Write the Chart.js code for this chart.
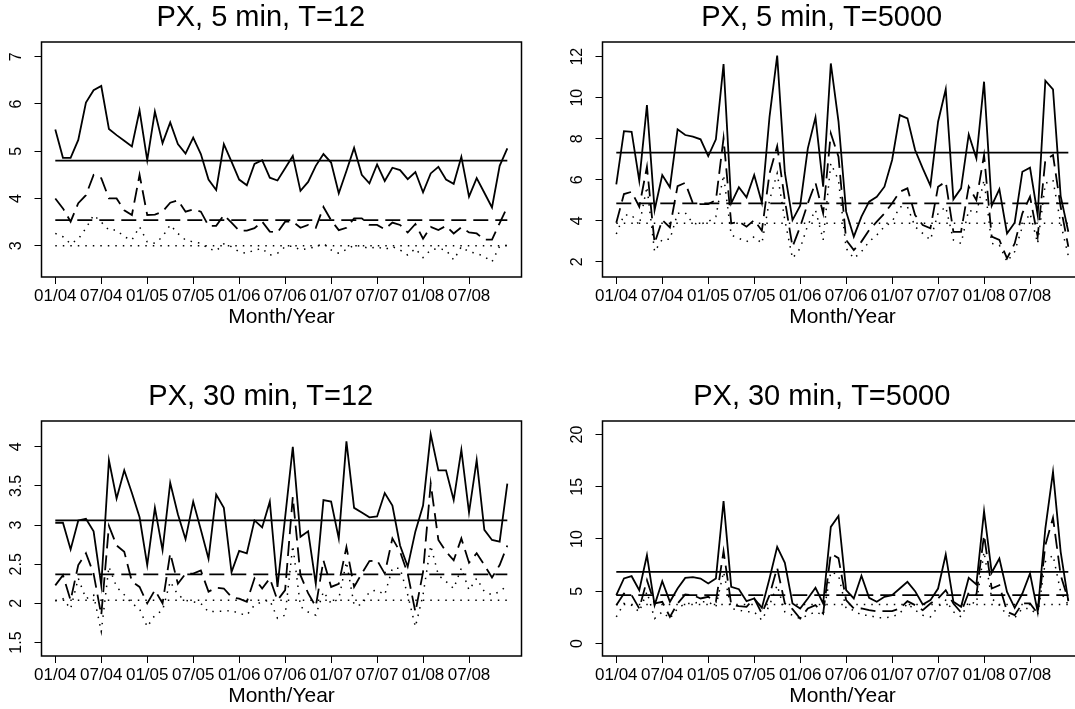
<!DOCTYPE html>
<html>
<head>
<meta charset="utf-8">
<script src="https://cdn.jsdelivr.net/npm/chart.js@4.4.1/dist/chart.umd.min.js"></script>
<style>
  html, body { margin: 0; padding: 0; background: #fff; }
  body { position: relative; width: 1075px; height: 709px; overflow: hidden; }
  canvas { position: absolute; }
</style>
</head>
<body>
<canvas id="c1" width="563" height="354" style="left:0px;top:0px"></canvas>
<canvas id="c2" width="563" height="354" style="left:561px;top:0px"></canvas>
<canvas id="c3" width="563" height="354" style="left:0px;top:378.5px"></canvas>
<canvas id="c4" width="563" height="354" style="left:561px;top:378.5px"></canvas>
<script>
// x axis: months 01/2004 .. 12/2008 (index 0..59)
const tickPos = [0, 6, 12, 18, 24, 30, 36, 42, 48, 54];
const tickLabels = ['01/04', '07/04', '01/05', '07/05', '01/06', '07/06', '01/07', '07/07', '01/08', '07/08'];

// PX, 5 min, T=12
const p1Solid = [5.46,4.86,4.86,5.24,6.03,6.29,6.38,5.47,5.34,5.22, 5.10,5.86,4.81,5.84,5.17,5.61,5.15,4.95,5.29,4.94,
  4.40,4.18,5.15,4.78,4.40,4.28,4.73,4.81,4.44,4.38, 4.64,4.90,4.16,4.35,4.69,4.94,4.76,4.11,4.58,5.07,
  4.50,4.32,4.72,4.37,4.65,4.60,4.41,4.56,4.13,4.53, 4.67,4.40,4.31,4.88,4.04,4.43,4.12,3.81,4.69,5.06];
const p1Dashed = [4.00,3.79,3.51,3.90,4.07,4.50,4.43,4.00,4.00,3.75, 3.65,4.50,3.65,3.66,3.72,3.91,3.96,3.72,3.77,3.72,
  3.42,3.42,3.65,3.49,3.32,3.32,3.37,3.51,3.30,3.28, 3.51,3.51,3.38,3.44,3.38,3.82,3.54,3.33,3.38,3.58,
  3.58,3.44,3.44,3.35,3.49,3.44,3.28,3.46,3.15,3.40, 3.33,3.42,3.26,3.39,3.28,3.26,3.13,3.13,3.48,3.82];
const p1Dotted = [3.26,3.19,3.04,3.14,3.37,3.65,3.50,3.33,3.33,3.19, 3.12,3.40,3.08,3.05,3.19,3.44,3.26,3.12,3.08,3.05,
  2.94,2.89,3.04,2.98,2.87,2.84,2.91,2.94,2.80,2.84, 2.98,2.99,2.91,2.94,2.98,3.05,2.91,2.84,2.92,3.01,
  2.99,2.94,2.98,2.92,2.98,2.91,2.80,2.94,2.75,2.91, 2.94,2.91,2.70,2.98,2.87,2.84,2.77,2.66,2.99,3.01];
const p1Means = [4.80, 3.54, 3.00];
const p1Ticks = [3, 4, 5, 6, 7];

// PX, 5 min, T=5000
const p2Solid = [5.77,8.37,8.34,5.95,9.64,4.52,6.23,5.63,8.46,8.18, 8.10,7.97,7.15,7.97,11.64,4.85,5.63,5.14,6.23,4.88,
  9.07,12.05,6.34,4.03,4.73,7.53,9.04,5.66,11.67,8.85, 4.44,3.22,4.20,4.93,5.17,5.66,6.96,9.15,8.99,7.45,
  6.55,5.71,8.83,10.41,5.04,5.58,8.21,7.04,10.78,4.73, 5.54,3.38,3.90,6.39,6.59,4.28,10.83,10.41,5.20,3.46];
const p2Dashed = [3.90,5.30,5.41,4.68,6.63,2.90,4.03,3.67,5.69,5.85, 4.85,4.81,4.81,5.00,8.02,3.87,3.95,3.71,4.03,3.51,
  6.31,7.64,5.00,2.73,3.71,4.85,5.85,4.36,8.26,7.12, 3.06,2.57,2.98,3.54,3.95,4.36,4.85,5.41,5.58,4.28,
  3.79,3.63,5.66,5.90,3.46,3.46,5.66,5.00,7.20,3.22, 3.06,2.16,2.89,4.36,5.17,3.22,6.96,7.20,4.68,2.73];
const p2Dotted = [3.35,4.28,4.28,3.79,5.66,2.49,3.09,3.09,4.36,4.39, 3.87,3.84,3.95,4.20,6.23,3.30,3.14,2.98,3.22,2.89,
  5.00,6.31,4.03,2.16,2.65,3.79,4.52,3.06,6.80,5.98, 2.65,2.16,2.49,2.98,3.30,3.71,3.95,4.68,4.68,3.71,
  3.38,3.06,4.36,4.68,3.06,2.89,4.52,4.36,5.98,2.89, 2.81,2.00,2.49,3.71,4.36,2.89,5.82,5.98,3.87,2.28];
const p2Means = [7.32, 4.85, 3.87];
const p2Ticks = [2, 4, 6, 8, 10, 12];

// PX, 30 min, T=12
const p3Solid = [3.03,3.03,2.69,3.06,3.08,2.92,2.23,3.83,3.34,3.70, 3.41,3.10,2.49,3.22,2.68,3.54,3.14,2.82,3.30,2.94,
  2.57,3.39,3.22,2.40,2.67,2.64,3.06,2.97,3.30,2.21, 3.10,4.00,2.85,2.92,2.25,3.32,3.30,2.83,4.07,3.22,
  3.16,3.10,3.11,3.41,3.25,2.74,2.47,2.92,3.25,4.16, 3.70,3.70,3.32,3.96,3.16,3.83,2.94,2.81,2.79,3.53];
const p3Dashed = [2.23,2.36,2.04,2.49,2.64,2.38,1.85,2.99,2.74,2.66, 2.28,2.21,2.00,2.17,2.00,2.64,2.25,2.38,2.38,2.42,
  2.15,2.20,2.19,2.08,2.06,2.02,2.32,2.19,2.32,2.04, 2.17,3.36,2.36,2.13,1.96,2.55,2.21,2.25,2.72,2.21,
  2.38,2.54,2.55,2.38,2.83,2.66,2.38,1.89,2.40,3.53, 2.81,2.66,2.55,2.83,2.52,2.64,2.49,2.33,2.49,2.74];
const p3Dotted = [2.03,2.06,1.93,2.32,2.06,2.11,1.64,2.47,2.21,2.11, 2.00,1.93,1.70,1.85,1.91,2.28,2.11,2.04,2.02,2.00,
  1.89,1.90,1.90,1.91,1.87,1.85,1.98,2.02,2.04,1.81, 1.85,2.74,1.96,1.89,1.85,2.15,2.00,2.06,2.53,1.98,
  1.98,2.15,2.17,2.11,2.45,2.45,2.11,1.70,2.11,2.74, 2.36,2.28,2.19,2.45,2.17,2.32,2.15,2.11,2.15,2.23];
const p3Means = [3.06, 2.37, 2.04];
const p3Ticks = [1.5, 2, 2.5, 3, 3.5, 4];

// PX, 30 min, T=5000
const p4Solid = [4.63,6.22,6.44,5.10,8.45,3.67,5.96,3.99,5.26,6.28, 6.35,6.22,5.74,6.22,13.62,5.42,5.20,4.05,4.31,3.41,
  6.22,9.25,7.72,3.83,3.35,4.31,5.33,3.83,11.16,12.20, 5.10,4.31,6.48,4.37,3.99,4.47,4.63,5.26,5.90,5.01,
  3.73,4.15,5.26,8.52,3.99,3.51,6.28,5.65,12.66,6.79, 8.13,4.94,3.41,4.78,6.70,3.03,11.00,16.43,8.77,4.05];
const p4Dashed = [3.67,4.78,4.63,3.35,6.06,3.83,3.99,2.55,3.83,4.69, 4.63,4.31,4.47,3.99,8.84,3.73,3.57,3.51,4.31,2.87,
  4.63,7.24,3.83,3.29,2.39,3.35,3.67,2.87,8.61,8.17, 4.15,3.35,3.35,3.19,3.09,3.09,3.09,3.35,4.05,3.67,
  3.19,3.83,4.31,5.10,3.83,2.97,4.88,4.63,10.37,5.26, 5.58,3.03,2.71,3.83,3.83,2.87,9.41,12.03,6.54,4.15];
const p4Dotted = [2.55,3.83,3.67,3.03,4.94,2.39,3.03,2.39,3.35,3.83, 3.83,3.99,3.99,3.51,6.86,3.35,3.19,3.03,3.03,2.23,
  3.67,5.58,3.03,2.71,2.39,2.71,3.03,2.71,6.86,6.54, 3.35,3.19,2.71,2.71,2.46,2.46,2.55,2.87,3.83,3.19,
  2.71,2.55,3.51,4.15,3.03,2.55,3.99,3.83,8.77,4.31, 3.67,2.71,2.46,3.35,3.35,2.71,7.82,8.45,4.94,3.67];
const p4Means = [6.86, 4.63, 3.73];
const p4Ticks = [0, 5, 10, 15, 20];

const FONT = '"Liberation Sans", Arial, Helvetica, sans-serif';
const styles = [
  { borderWidth: 1.8, borderDash: [] },
  { borderWidth: 1.8, borderDash: [15, 7] },
  { borderWidth: 1.5, borderDash: [1.5, 6] }
];

// box around the plot region, like R's bty="o"
const boxPlugin = {
  id: 'rbox',
  afterDraw(chart) {
    const { ctx, chartArea: a } = chart;
    ctx.save();
    ctx.strokeStyle = '#000';
    ctx.lineWidth = 1.5;
    ctx.strokeRect(a.left, a.top, a.right - a.left, a.bottom - a.top);
    ctx.restore();
  }
};

function toPoints(arr) {
  return arr.map((v, i) => ({ x: i, y: v }));
}

function makePanel(id, title, series, means, yMin, yMax, yTicks, yPad) {
  const datasets = [];
  series.forEach((s, k) => {
    datasets.push(Object.assign({ data: toPoints(s), borderColor: '#000', pointRadius: 0, tension: 0, fill: false }, styles[k]));
  });
  means.forEach((m, k) => {
    const last = series[0].length - 1;
    datasets.push(Object.assign({ data: [{ x: 0, y: m }, { x: last, y: m }], borderColor: '#000', pointRadius: 0, fill: false }, styles[k]));
  });

  return new Chart(document.getElementById(id), {
    type: 'line',
    data: { datasets },
    plugins: [boxPlugin],
    options: {
      responsive: false,
      animation: false,
      layout: { padding: { left: 0, right: 41.5, top: 0, bottom: 0 } },
      plugins: {
        legend: { display: false },
        tooltip: { enabled: false },
        title: {
          display: true, text: title, color: '#000',
          font: { family: FONT, size: 29, weight: 'normal' },
          padding: { top: 0.9, bottom: 6.3 }
        }
      },
      scales: {
        x: {
          type: 'linear', min: -1.8, max: 60.85,
          afterBuildTicks: (s) => { s.ticks = tickPos.map(v => ({ value: v })); },
          afterFit: (s) => { s.height = 77; },
          ticks: {
            autoSkip: false, maxRotation: 0, minRotation: 0, padding: 2, color: '#000',
            font: { family: FONT, size: 17 },
            callback: (v, i) => tickLabels[i]
          },
          grid: { drawOnChartArea: false, drawTicks: true, tickLength: 7, color: '#000' },
          border: { display: false },
          title: {
            display: true, text: 'Month/Year', color: '#000',
            font: { family: FONT, size: 21 },
            padding: { top: 0, bottom: 23.7 }
          }
        },
        y: {
          type: 'linear', min: yMin, max: yMax,
          afterBuildTicks: (s) => { s.ticks = yTicks.map(v => ({ value: v })); },
          afterFit: (s) => { s.width = 41.5; },
          ticks: {
            minRotation: 90, maxRotation: 90, crossAlign: 'center', padding: yPad, color: '#000',
            font: { family: FONT, size: 16 },
            callback: (v) => String(v)
          },
          grid: { drawOnChartArea: false, drawTicks: true, tickLength: 7, color: '#000' },
          border: { display: false }
        }
      }
    }
  });
}

makePanel('c1', 'PX, 5 min, T=12', [p1Solid, p1Dashed, p1Dotted], p1Means, 2.338, 7.311, p1Ticks, 13.5);
makePanel('c2', 'PX, 5 min, T=5000', [p2Solid, p2Dashed, p2Dotted], p2Means, 1.254, 12.717, p2Ticks, 9);
makePanel('c3', 'PX, 30 min, T=12', [p3Solid, p3Dashed, p3Dotted], p3Means, 1.328, 4.33, p3Ticks, 7);
makePanel('c4', 'PX, 30 min, T=5000', [p4Solid, p4Dashed, p4Dotted], p4Means, -1.196, 21.29, p4Ticks, 9);
</script>
</body>
</html>
